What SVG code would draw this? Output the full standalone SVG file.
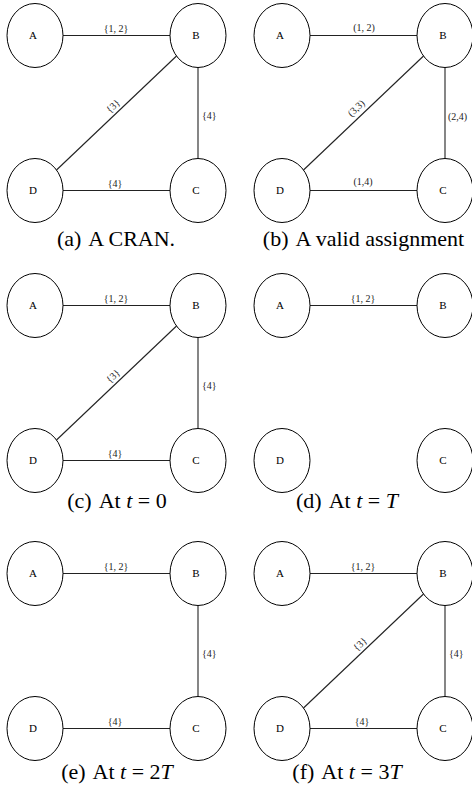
<svg xmlns="http://www.w3.org/2000/svg" width="472" height="800" viewBox="0 0 472 800">
<style>
.n{fill:#fff;stroke:#000;stroke-width:1}
.nl{font-size:11px;text-anchor:middle;fill:#000}
.e{stroke:#222;stroke-width:1.1;fill:none}
.el{font-size:10px;fill:#222}
.m{text-anchor:middle}
.cap{font-size:22px;text-anchor:middle;fill:#000}
.i{font-style:italic}
</style>
<rect width="472" height="800" fill="#fff"/>
<g font-family="Liberation Serif, Tinos, Times New Roman, Times, serif">

<!-- Panel a -->
<g id="panel-a">
<g id="a-edges">
<line class="e" x1="63" y1="35.5" x2="170" y2="35.5"/>
<line class="e" x1="63" y1="190.5" x2="170" y2="190.5"/>
<line class="e" x1="198" y1="67.5" x2="198" y2="158.5"/>
<line class="e" x1="56.5" y1="170" x2="176.5" y2="56"/>
<text class="el m" x="116" y="32">{1, 2}</text>
<text class="el m" x="115" y="187">{4}</text>
<text class="el" x="202" y="118.5">{4}</text>
<text class="el m" transform="translate(113,106) rotate(-43.5)" x="0" y="3.5">{3}</text>
</g>
<g id="a-A"><ellipse class="n" cx="35" cy="35.5" rx="28" ry="32"/><text class="nl" x="33" y="39">A</text></g>
<g id="a-B"><ellipse class="n" cx="198" cy="35.5" rx="28" ry="32"/><text class="nl" x="196" y="39">B</text></g>
<g id="a-C"><ellipse class="n" cx="198" cy="190.5" rx="28" ry="32"/><text class="nl" x="196" y="194">C</text></g>
<g id="a-D"><ellipse class="n" cx="35" cy="190.5" rx="28" ry="32"/><text class="nl" x="33" y="194">D</text></g>
<text class="cap" x="116" y="246">(a)<tspan dx="7">A CRAN.</tspan></text>
</g>

<!-- Panel b -->
<g id="panel-b">
<g id="b-edges">
<line class="e" x1="310" y1="35.5" x2="417" y2="35.5"/>
<line class="e" x1="310" y1="190.5" x2="417" y2="190.5"/>
<line class="e" x1="445" y1="67.5" x2="445" y2="158.5"/>
<line class="e" x1="303.5" y1="170" x2="423.5" y2="56"/>
<text class="el m" x="364" y="31">(1, 2)</text>
<text class="el m" x="363" y="185">(1,4)</text>
<text class="el" x="448" y="120">(2,4)</text>
<text class="el m" transform="translate(356,108) rotate(-43.5)" x="0" y="3.5">(3,3)</text>
</g>
<g id="b-A"><ellipse class="n" cx="282" cy="35.5" rx="28" ry="32"/><text class="nl" x="280" y="39">A</text></g>
<g id="b-B"><ellipse class="n" cx="445" cy="35.5" rx="28" ry="32"/><text class="nl" x="443" y="39">B</text></g>
<g id="b-C"><ellipse class="n" cx="445" cy="190.5" rx="28" ry="32"/><text class="nl" x="443" y="194">C</text></g>
<g id="b-D"><ellipse class="n" cx="282" cy="190.5" rx="28" ry="32"/><text class="nl" x="280" y="194">D</text></g>
<text class="cap" x="363.5" y="246">(b)<tspan dx="7">A valid assignment</tspan></text>
</g>

<!-- Panel c -->
<g id="panel-c">
<g id="c-edges">
<line class="e" x1="63" y1="305.5" x2="170" y2="305.5"/>
<line class="e" x1="63" y1="460.5" x2="170" y2="460.5"/>
<line class="e" x1="198" y1="337.5" x2="198" y2="428.5"/>
<line class="e" x1="56.5" y1="440" x2="176.5" y2="326"/>
<text class="el m" x="116" y="302">{1, 2}</text>
<text class="el m" x="115" y="457">{4}</text>
<text class="el" x="202" y="388.5">{4}</text>
<text class="el m" transform="translate(113,376) rotate(-43.5)" x="0" y="3.5">{3}</text>
</g>
<g id="c-A"><ellipse class="n" cx="35" cy="305.5" rx="28" ry="32"/><text class="nl" x="33" y="309">A</text></g>
<g id="c-B"><ellipse class="n" cx="198" cy="305.5" rx="28" ry="32"/><text class="nl" x="196" y="309">B</text></g>
<g id="c-C"><ellipse class="n" cx="198" cy="460.5" rx="28" ry="32"/><text class="nl" x="196" y="464">C</text></g>
<g id="c-D"><ellipse class="n" cx="35" cy="460.5" rx="28" ry="32"/><text class="nl" x="33" y="464">D</text></g>
<text class="cap" x="117" y="508">(c)<tspan dx="7">At </tspan><tspan class="i">t</tspan> = 0</text>
</g>

<!-- Panel d -->
<g id="panel-d">
<g id="d-edges">
<line class="e" x1="310" y1="305.5" x2="417" y2="305.5"/>
<text class="el m" x="363" y="302">{1, 2}</text>
</g>
<g id="d-A"><ellipse class="n" cx="282" cy="305.5" rx="28" ry="32"/><text class="nl" x="280" y="309">A</text></g>
<g id="d-B"><ellipse class="n" cx="445" cy="305.5" rx="28" ry="32"/><text class="nl" x="443" y="309">B</text></g>
<g id="d-C"><ellipse class="n" cx="445" cy="460.5" rx="28" ry="32"/><text class="nl" x="443" y="464">C</text></g>
<g id="d-D"><ellipse class="n" cx="282" cy="460.5" rx="28" ry="32"/><text class="nl" x="280" y="464">D</text></g>
<text class="cap" x="347" y="508">(d)<tspan dx="7">At </tspan><tspan class="i">t</tspan> = <tspan class="i">T</tspan></text>
</g>

<!-- Panel e -->
<g id="panel-e">
<g id="e-edges">
<line class="e" x1="63" y1="573.5" x2="170" y2="573.5"/>
<line class="e" x1="63" y1="728.5" x2="170" y2="728.5"/>
<line class="e" x1="198" y1="605.5" x2="198" y2="696.5"/>
<text class="el m" x="116" y="570">{1, 2}</text>
<text class="el m" x="115" y="725">{4}</text>
<text class="el" x="202" y="656.5">{4}</text>
</g>
<g id="e-A"><ellipse class="n" cx="35" cy="573.5" rx="28" ry="32"/><text class="nl" x="33" y="577">A</text></g>
<g id="e-B"><ellipse class="n" cx="198" cy="573.5" rx="28" ry="32"/><text class="nl" x="196" y="577">B</text></g>
<g id="e-C"><ellipse class="n" cx="198" cy="728.5" rx="28" ry="32"/><text class="nl" x="196" y="732">C</text></g>
<g id="e-D"><ellipse class="n" cx="35" cy="728.5" rx="28" ry="32"/><text class="nl" x="33" y="732">D</text></g>
<text class="cap" x="117" y="779">(e)<tspan dx="7">At </tspan><tspan class="i">t</tspan> = 2<tspan class="i">T</tspan></text>
</g>

<!-- Panel f -->
<g id="panel-f">
<g id="f-edges">
<line class="e" x1="310" y1="573.5" x2="417" y2="573.5"/>
<line class="e" x1="310" y1="728.5" x2="417" y2="728.5"/>
<line class="e" x1="445" y1="605.5" x2="445" y2="696.5"/>
<line class="e" x1="303.5" y1="708" x2="423.5" y2="594"/>
<text class="el m" x="363" y="570">{1, 2}</text>
<text class="el m" x="362" y="725">{4}</text>
<text class="el" x="449" y="656.5">{4}</text>
<text class="el m" transform="translate(360,644) rotate(-43.5)" x="0" y="3.5">{3}</text>
</g>
<g id="f-A"><ellipse class="n" cx="282" cy="573.5" rx="28" ry="32"/><text class="nl" x="280" y="577">A</text></g>
<g id="f-B"><ellipse class="n" cx="445" cy="573.5" rx="28" ry="32"/><text class="nl" x="443" y="577">B</text></g>
<g id="f-C"><ellipse class="n" cx="445" cy="728.5" rx="28" ry="32"/><text class="nl" x="443" y="732">C</text></g>
<g id="f-D"><ellipse class="n" cx="282" cy="728.5" rx="28" ry="32"/><text class="nl" x="280" y="732">D</text></g>
<text class="cap" x="347" y="779">(f)<tspan dx="7">At </tspan><tspan class="i">t</tspan> = 3<tspan class="i">T</tspan></text>
</g>
</g>
</svg>
